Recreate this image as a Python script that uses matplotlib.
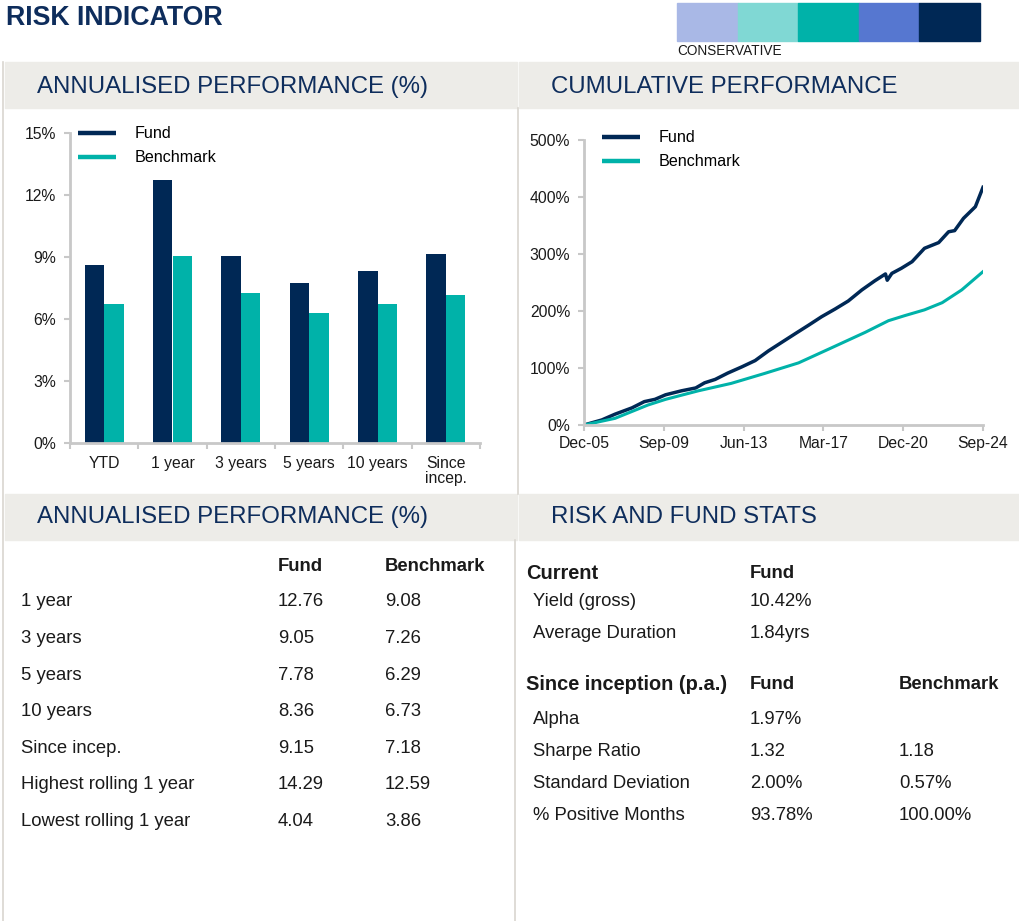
import matplotlib
matplotlib.use("Agg")
import matplotlib.pyplot as plt
from matplotlib.patches import Rectangle
from matplotlib.lines import Line2D
from matplotlib.ticker import FuncFormatter
import numpy as np

plt.rcParams['font.family'] = ['Liberation Sans', 'DejaVu Sans']

W, H = 1019, 921
NAVY = '#002855'
TEAL = '#00B2A9'
HEAD = '#0E2D5C'
GREY_BG = '#EDECE8'
AXIS = '#C8C8C8'
TXT = '#1A1A1A'

# risk indicator scale
risk_colors = ['#A9B8E6', '#80D8D4', '#00B2A9', '#5677D0', '#002855']

# annualised performance bars
periods = ['YTD', '1 year', '3 years', '5 years', '10 years', 'Since\nincep.']
fund_ann = [8.61, 12.76, 9.05, 7.78, 8.36, 9.15]
bench_ann = [6.72, 9.08, 7.26, 6.29, 6.73, 7.18]

# cumulative performance (months since Dec-05, % growth)
fund_months = [0, 10, 17.5, 27, 34, 40, 46, 55, 63, 68, 74, 81, 89, 96.5, 104,
               111.5, 119, 126.6, 134, 141.6, 149, 156.7, 164, 170, 171, 173.6,
               179, 185, 192, 200, 205.6, 209, 214, 220.7, 225]
fund_cum = [0, 8.8, 19, 30, 41, 45, 53, 60, 65, 74, 80, 91, 102, 113, 130,
            145, 160, 175, 190, 203.5, 217.5, 237, 253, 265, 254, 266,
            275, 286.5, 310, 320, 339, 341, 362.6, 383, 417]
bench_months = [0, 17.5, 36, 46, 64.5, 83, 102, 121, 140, 158.6, 171.7, 181,
                192, 202, 213, 225]
bench_cum = [0, 11.7, 35, 45, 60, 73, 90.6, 109, 136, 162.6, 183, 192,
             202, 214.6, 237, 269]
date_ticks = [0, 45, 90, 135, 180, 225]
date_labels = ['Dec-05', 'Sep-09', 'Jun-13', 'Mar-17', 'Dec-20', 'Sep-24']

# tables
ann_rows = ['1 year', '3 years', '5 years', '10 years', 'Since incep.',
            'Highest rolling 1 year', 'Lowest rolling 1 year']
ann_fund = ['12.76', '9.05', '7.78', '8.36', '9.15', '14.29', '4.04']
ann_bench = ['9.08', '7.26', '6.29', '6.73', '7.18', '12.59', '3.86']

current_rows = ['Yield (gross)', 'Average Duration']
current_fund = ['10.42%', '1.84yrs']
incep_rows = ['Alpha', 'Sharpe Ratio', 'Standard Deviation', '% Positive Months']
incep_fund = ['1.97%', '1.32', '2.00%', '93.78%']
incep_bench = ['', '1.18', '0.57%', '100.00%']


def fx(px):
    return px / W


def fy(py):
    return 1 - py / H


def ftext(x, y, s, **kw):
    fig.text(fx(x), fy(y), s, va='center', **kw)


def style_axes(ax):
    for s in ['top', 'right']:
        ax.spines[s].set_visible(False)
    for s in ['left', 'bottom']:
        ax.spines[s].set_color(AXIS)
        ax.spines[s].set_linewidth(2)
    ax.tick_params(labelsize=11.3, labelcolor=TXT)


def add_legend(ax, anchor):
    handles = [Line2D([], [], color=NAVY, lw=3.2, solid_capstyle='butt'),
               Line2D([], [], color=TEAL, lw=3.2, solid_capstyle='butt')]
    ax.legend(handles, ['Fund', 'Benchmark'], loc='upper left',
              bbox_to_anchor=anchor, frameon=False, fontsize=11.6,
              handlelength=2.35, handletextpad=1.15, labelspacing=0.55,
              borderpad=0, borderaxespad=0)


fig = plt.figure(figsize=(W / 100, H / 100), dpi=100)

# ---- top banner ----
ftext(6, 18, 'RISK INDICATOR', fontsize=19.3, fontweight='bold', color=HEAD)
bw = (980 - 677) / len(risk_colors)
for i, c in enumerate(risk_colors):
    fig.patches.append(Rectangle((fx(677 + i * bw), fy(41)), fx(bw), 38 / H,
                                 transform=fig.transFigure, color=c, zorder=0))
ftext(677, 51, 'CONSERVATIVE', fontsize=9.8, color=TXT)

# ---- panel headers and borders ----
for (x0, x1, y0, y1) in [(5, 517, 62, 108), (519, W, 62, 108),
                         (5, 517, 494, 540), (519, W, 494, 540)]:
    fig.patches.append(Rectangle((fx(x0), fy(y1)), fx(x1 - x0), (y1 - y0) / H,
                                 transform=fig.transFigure, color=GREY_BG, zorder=0))
for (x, y0, y1) in [(3, 62, H), (518, 108, 494), (515, 540, H)]:
    fig.add_artist(plt.Line2D([fx(x), fx(x)], [fy(y0), fy(y1)],
                              transform=fig.transFigure, color='#D9D6D0', lw=1.2))

hfs = 17.3
ftext(37, 87, 'ANNUALISED PERFORMANCE (%)', fontsize=hfs, color=HEAD)
ftext(551, 87, 'CUMULATIVE PERFORMANCE', fontsize=hfs, color=HEAD)
ftext(37, 517, 'ANNUALISED PERFORMANCE (%)', fontsize=hfs, color=HEAD)
ftext(551, 517, 'RISK AND FUND STATS', fontsize=hfs, color=HEAD)

# ---- bar chart ----
ax1 = fig.add_axes([fx(70), fy(443.3), fx(480 - 70), (443.3 - 133.3) / H])
x = np.arange(len(periods))
bwid = 0.285
ax1.bar(x - bwid / 2, fund_ann, bwid, color=NAVY)
ax1.bar(x + bwid / 2, bench_ann, bwid, color=TEAL)
ax1.set_xlim(-0.5, len(periods) - 0.5)
ax1.set_ylim(0, 15)
ax1.set_yticks([0, 3, 6, 9, 12, 15])
ax1.yaxis.set_major_formatter(FuncFormatter(lambda v, p: f'{v:.0f}%'))
ax1.set_xticks(x)
ax1.set_xticklabels(periods, linespacing=1.05)
ax1.set_xticks(np.arange(-0.5, len(periods)), minor=True)
ax1.tick_params(axis='x', which='major', length=0, pad=9)
ax1.tick_params(axis='x', which='minor', length=4, color=AXIS, width=1.5)
ax1.tick_params(axis='y', length=4, color=AXIS, width=1.5, pad=6)
style_axes(ax1)
add_legend(ax1, (8 / 410, 1.022))

# ---- cumulative line chart ----
ax2 = fig.add_axes([fx(584), fy(425), fx(983 - 584), (425 - 140) / H])
ax2.plot(fund_months, fund_cum, color=NAVY, lw=2.5, solid_joinstyle='round')
ax2.plot(bench_months, bench_cum, color=TEAL, lw=2.2)
ax2.set_xlim(0, 225)
ax2.set_ylim(0, 500)
ax2.set_yticks(range(0, 501, 100))
ax2.yaxis.set_major_formatter(FuncFormatter(lambda v, p: f'{v:.0f}%'))
ax2.set_xticks(date_ticks)
ax2.set_xticklabels(date_labels)
ax2.tick_params(axis='x', length=4, color=AXIS, width=1.5, pad=4)
ax2.tick_params(axis='y', length=4, color=AXIS, width=1.5, pad=6)
style_axes(ax2)
add_legend(ax2, (18 / 399, 1.034))

# ---- annualised performance table ----
tfs = 13.3
ftext(278, 566, 'Fund', fontsize=tfs, fontweight='bold', color=TXT)
ftext(385, 566, 'Benchmark', fontsize=tfs, fontweight='bold', color=TXT)
for i, (lab, f, b) in enumerate(zip(ann_rows, ann_fund, ann_bench)):
    y = 602 + i * 36.5
    ftext(21, y, lab, fontsize=tfs, color=TXT)
    ftext(278, y, f, fontsize=tfs, color=TXT)
    ftext(385, y, b, fontsize=tfs, color=TXT)

# ---- risk and fund stats ----
ftext(526, 573, 'Current', fontsize=14.4, fontweight='bold', color=TXT)
ftext(750, 573, 'Fund', fontsize=tfs, fontweight='bold', color=TXT)
for i, (lab, f) in enumerate(zip(current_rows, current_fund)):
    y = 602 + i * 32
    ftext(533, y, lab, fontsize=tfs, color=TXT)
    ftext(750, y, f, fontsize=tfs, color=TXT)

ftext(526, 684, 'Since inception (p.a.)', fontsize=14.4, fontweight='bold', color=TXT)
ftext(750, 684, 'Fund', fontsize=tfs, fontweight='bold', color=TXT)
ftext(899, 684, 'Benchmark', fontsize=tfs, fontweight='bold', color=TXT)
for i, (lab, f, b) in enumerate(zip(incep_rows, incep_fund, incep_bench)):
    y = 719 + i * 32.3
    ftext(533, y, lab, fontsize=tfs, color=TXT)
    ftext(750, y, f, fontsize=tfs, color=TXT)
    ftext(899, y, b, fontsize=tfs, color=TXT)

fig.savefig('out.png', dpi=100)
